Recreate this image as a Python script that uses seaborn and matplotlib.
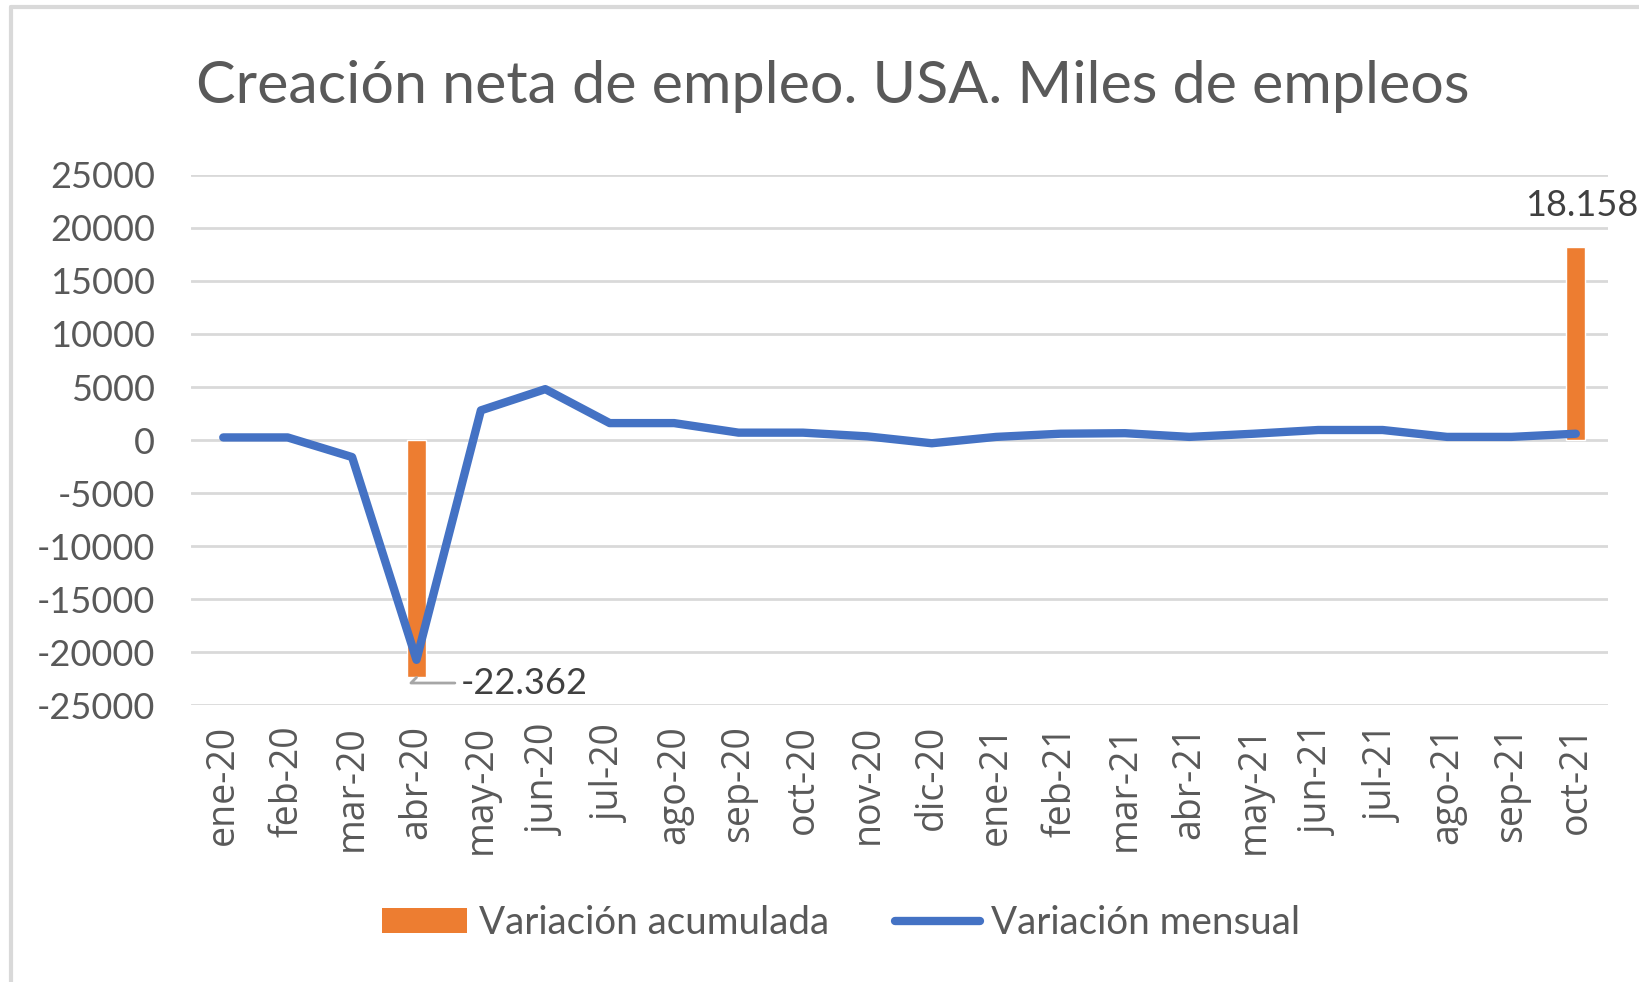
import numpy as np
import pandas as pd
import matplotlib.pyplot as plt
import seaborn as sns
from matplotlib.patches import Patch
from matplotlib.lines import Line2D

meses = ['ene-20', 'feb-20', 'mar-20', 'abr-20', 'may-20', 'jun-20', 'jul-20', 'ago-20',
         'sep-20', 'oct-20', 'nov-20', 'dic-20', 'ene-21', 'feb-21', 'mar-21', 'abr-21',
         'may-21', 'jun-21', 'jul-21', 'ago-21', 'sep-21', 'oct-21']
mensual = [250, 250, -1600, -20700, 2800, 4800, 1600, 1600, 700, 700, 350, -300,
           300, 600, 650, 300, 600, 950, 950, 300, 300, 600]
acumulada = [np.nan, np.nan, np.nan, -22362, np.nan, np.nan, np.nan, np.nan, np.nan, np.nan, np.nan,
             np.nan, np.nan, np.nan, np.nan, np.nan, np.nan, np.nan, np.nan, np.nan, np.nan, 18158]
yticks = [-25000, -20000, -15000, -10000, -5000, 0, 5000, 10000, 15000, 20000, 25000]

df = pd.DataFrame({'mes': meses, 'mensual': mensual, 'acumulada': acumulada})
df['pos'] = np.arange(len(df))

sns.set_theme(style='white')
plt.rcParams['font.family'] = ['Lato', 'DejaVu Sans']

naranja = '#ED7D31'
azul = '#4472C4'
gris = '#595959'

fig = plt.figure(figsize=(16.4, 9.82), dpi=100)
ax = fig.add_axes([0.1165, 0.2816, 0.864, 0.5405])

sns.barplot(data=df, x='mes', y='acumulada', color=naranja, width=0.3, ax=ax, zorder=2, saturation=1)
sns.lineplot(data=df, x='pos', y='mensual', color=azul, linewidth=6, ax=ax, zorder=3)
ax.lines[-1].set_solid_capstyle('round')
ax.lines[-1].set_solid_joinstyle('round')

ax.set_xlim(-0.5, len(meses) - 0.5)
ax.set_ylim(-25000, 25000)
ax.set_yticks(yticks)
ax.set_yticklabels([str(v) for v in yticks], fontsize=26, color=gris)
ax.set_xticks(df['pos'])
ax.set_xticklabels(meses, rotation=90, fontsize=27, color=gris, family='Open Sans')
ax.tick_params(axis='y', length=0, pad=26)
ax.tick_params(axis='x', length=0, pad=14)
for t in ax.get_xticklabels():
    t.set_verticalalignment('top')
ax.set_xlabel('')
ax.set_ylabel('')
for s in ax.spines.values():
    s.set_visible(False)
for v in yticks:
    ax.axhline(v, color='#D9D9D9', linewidth=2, zorder=1)

# etiquetas de datos
def fmt(v):
    return f'{v:,.0f}'.replace(',', '.')

i_min = int(np.nanargmin(acumulada))
i_max = int(np.nanargmax(acumulada))
ax.annotate(fmt(acumulada[i_max]), xy=(i_max, acumulada[i_max]), xytext=(4, 18),
            textcoords='offset points', ha='center', va='bottom', fontsize=26, color='#404040')
ax.annotate(fmt(acumulada[i_min]), xy=(i_min, acumulada[i_min]), xytext=(32, -4),
            textcoords='offset points', ha='left', va='center', fontsize=26, color='#404040',
            arrowprops=dict(arrowstyle='-', color='#A6A6A6', linewidth=2,
                            connectionstyle='angle,angleA=0,angleB=45,rad=0', shrinkA=2, shrinkB=0))

fig.text(0.508, 0.912, 'Creación neta de empleo. USA. Miles de empleos', ha='center', va='center',
         fontsize=42.7, color=gris)

handles = [Patch(facecolor=naranja, edgecolor='none'),
           Line2D([0], [0], color=azul, linewidth=6, solid_capstyle='round')]
fig.legend(handles, ['Variación acumulada', 'Variación mensual'], loc='center',
           bbox_to_anchor=(0.513, 0.06), ncol=2, frameon=False, fontsize=27.8,
           labelcolor=gris, handlelength=2.2, handleheight=0.62, handletextpad=0.3,
           columnspacing=1.7)

# borde del gráfico
fig.add_artist(Line2D([0.0065, 0.0065], [0, 0.9925], color='#D9D9D9', linewidth=3, transform=fig.transFigure))
fig.add_artist(Line2D([0.0065, 1], [0.9925, 0.9925], color='#D9D9D9', linewidth=3, transform=fig.transFigure))

fig.savefig('out.png', dpi=100)
